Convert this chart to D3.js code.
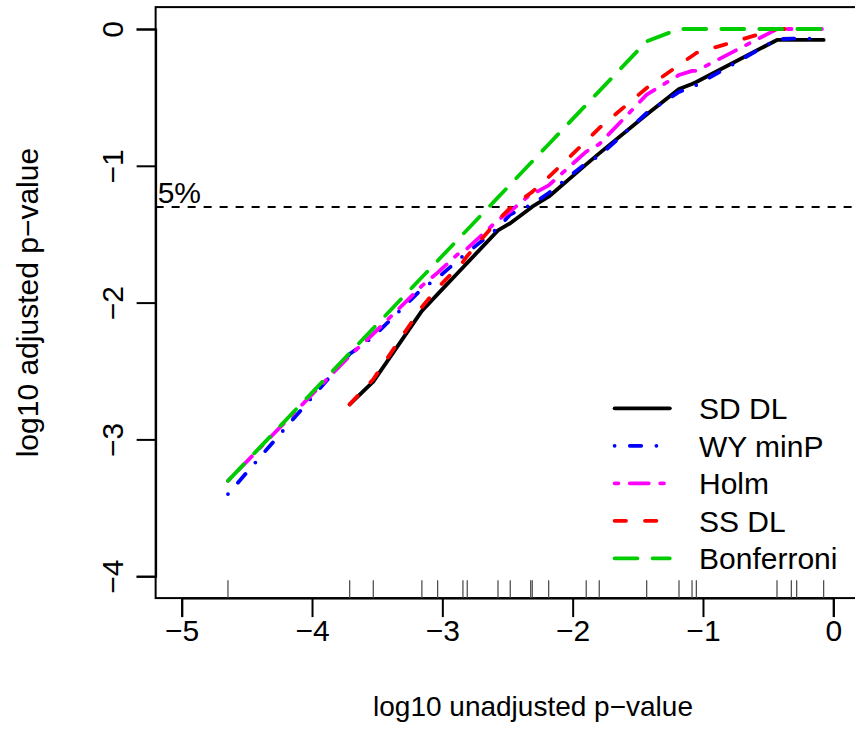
<!DOCTYPE html>
<html>
<head>
<meta charset="utf-8">
<script src="https://cdn.jsdelivr.net/npm/d3@7"></script>
<style>
  body { margin: 0; background: #fff; }
  text { font-family: "Liberation Sans", Arial, sans-serif; fill: #000; }
</style>
</head>
<body>
<script>
// log10 unadjusted p-values (also the rug)
const pvals = [-4.645, -3.711, -3.530, -3.157, -3.036, -2.842, -2.809, -2.573, -2.479, -2.322, -2.310,
               -2.184, -1.896, -1.796, -1.432, -1.184, -1.084, -1.051, -0.432, -0.322, -0.281, -0.074]

// log10 adjusted p-values, one array per method (null = not drawn)
const sdDL = [null, -2.744, -2.578, -2.061, -1.938, -1.743, -1.710, -1.472, -1.420, -1.308, -1.299,
              -1.226, -0.990, -0.909, -0.625, -0.439, -0.402, -0.387, -0.080, -0.080, -0.080, -0.080]
const wyMinP = [-3.400, -2.376, -2.250, -1.900, -1.820, -1.660, -1.635, -1.455, -1.356, -1.287, -1.282,
                -1.199, -0.980, -0.928, -0.614, -0.460, -0.424, -0.410, -0.075, -0.070, -0.070, -0.070]
const holm = [-3.303, -2.389, -2.229, -1.878, -1.781, -1.612, -1.605, -1.397, -1.333, -1.208, -1.208,
              -1.143, -0.896, -0.842, -0.480, -0.336, -0.306, -0.306, 0, 0, 0, 0]
const ssDL = [null, -2.744, -2.560, -2.032, -1.893, -1.703, -1.659, -1.396, -1.308, -1.199, -1.191,
              -1.082, -0.819, -0.724, -0.431, -0.263, -0.197, -0.175, 0, 0, 0, 0]
const bonf = [-3.303, -2.369, -2.188, -1.815, -1.694, -1.500, -1.467, -1.231, -1.137, -0.980, -0.968,
              -0.842, -0.554, -0.454, -0.090, 0, 0, 0, 0, 0, 0, 0]

const methodNames = ["SD DL", "WY minP", "Holm", "SS DL", "Bonferroni"]
const methodColors = ["#000000", "#0000ff", "#ff00ff", "#ff0000", "#00cd00"]
const methodDashes = [null, "0,15.2,11.4,15.2", "3.8,11.4,19,11.4", "11.4,19", "22.8,15.2"]
const xTicks = [-5, -4, -3, -2, -1, 0]
const yTicks = [-4, -3, -2, -1, 0]
const cutoff = Math.log10(0.05)

const svgWidth = 855, svgHeight = 751
const lw = 3.8

const svg = d3.select("body").append("svg")
  .attr("width", svgWidth).attr("height", svgHeight)

const x = d3.scaleLinear().domain([-5, 0]).range([181.7, 833.3])
const y = d3.scaleLinear().domain([-4, 0]).range([576.2, 29])

const pLeft = x(-5.2), pRight = 912, pTop = y(0.16), pBottom = y(-4.16)

// box
svg.append("rect")
  .attr("x", pLeft).attr("y", pTop)
  .attr("width", pRight - pLeft).attr("height", pBottom - pTop)
  .attr("fill", "none").attr("stroke", "#000").attr("stroke-width", 2)

// axes
const xAxis = d3.axisBottom(x).tickValues(xTicks).tickSize(19).tickPadding(3)
  .tickFormat(d => d < 0 ? "\u2212" + Math.abs(d) : d)
const gx = svg.append("g").attr("transform", "translate(0," + pBottom + ")").call(xAxis)
gx.select(".domain").attr("stroke-width", 2)
gx.selectAll(".tick line").attr("stroke-width", 2)
gx.selectAll("text").style("font-size", "30px").style("font-family", "Liberation Sans").attr("fill", "#000")

const yAxis = d3.axisLeft(y).tickValues(yTicks).tickSize(19)
  .tickFormat(d => d < 0 ? "\u2212" + Math.abs(d) : d)
const gy = svg.append("g").attr("transform", "translate(" + pLeft + ",0)").call(yAxis)
gy.select(".domain").attr("stroke-width", 2)
gy.selectAll(".tick line").attr("stroke-width", 2)
gy.selectAll("text")
  .style("font-size", "30px").style("font-family", "Liberation Sans").attr("fill", "#000")
  .attr("x", 0).attr("dy", 0).attr("text-anchor", "middle")
  .attr("transform", "translate(" + (123 - pLeft) + ",0) rotate(-90)")

// axis titles
svg.append("text")
  .attr("x", 533).attr("y", 716)
  .attr("text-anchor", "middle").style("font-size", "28px")
  .text("log10 unadjusted p\u2212value")
svg.append("text")
  .attr("transform", "translate(38," + (pTop + pBottom) / 2 + ") rotate(-90)")
  .attr("text-anchor", "middle").style("font-size", "30px")
  .text("log10 adjusted p\u2212value")

// 5% line
svg.append("line")
  .attr("x1", pLeft).attr("x2", pRight)
  .attr("y1", y(cutoff)).attr("y2", y(cutoff))
  .attr("stroke", "#000").attr("stroke-width", 2).attr("stroke-dasharray", "8,8")
svg.append("text")
  .attr("x", pLeft + 2).attr("y", y(cutoff) - 4)
  .style("font-size", "30px")
  .text("5%")

// rug
svg.append("g").selectAll("line")
  .data(pvals)
  .enter().append("line")
  .attr("x1", d => x(d)).attr("x2", d => x(d))
  .attr("y1", pBottom).attr("y2", pBottom - 0.03 * (pBottom - pTop))
  .attr("stroke", "#444").attr("stroke-width", 1.2)

// curves
const series = [sdDL, wyMinP, holm, ssDL, bonf]
const line = d3.line()
  .defined(d => d[1] !== null)
  .x(d => x(d[0])).y(d => y(d[1]))

series.forEach(function(vals, i) {
  svg.append("path")
    .datum(pvals.map((p, j) => [p, vals[j]]))
    .attr("d", line)
    .attr("fill", "none")
    .attr("stroke", methodColors[i])
    .attr("stroke-width", lw)
    .attr("stroke-linecap", "round")
    .attr("stroke-linejoin", "round")
    .attr("stroke-dasharray", methodDashes[i])
})

// legend
const legend = svg.selectAll(".legend")
  .data(methodNames)
  .enter().append("g")
  .attr("class", "legend")
  .attr("transform", (d, i) => "translate(0," + (408.3 + i * 37.5) + ")")

legend.append("line")
  .attr("x1", 612.7 + lw / 2).attr("x2", 671.7 - lw / 2)
  .attr("stroke", (d, i) => methodColors[i])
  .attr("stroke-width", lw)
  .attr("stroke-linecap", "round")
  .attr("stroke-dasharray", (d, i) => methodDashes[i])

legend.append("text")
  .attr("x", 699)
  .attr("y", 10.8)
  .style("font-size", "30px")
  .text(d => d)
</script>
</body>
</html>
